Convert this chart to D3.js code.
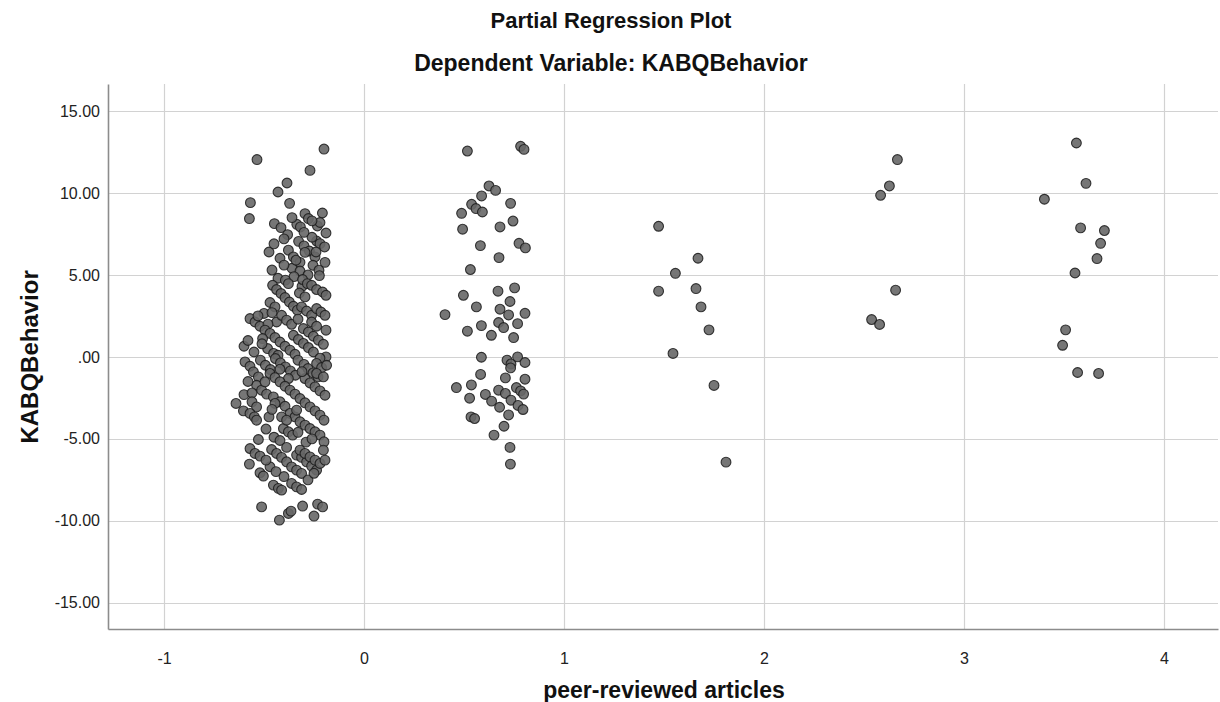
<!DOCTYPE html>
<html>
<head>
<meta charset="utf-8">
<script src="https://cdn.jsdelivr.net/npm/d3@7/dist/d3.min.js"></script>
<style>
  html, body { margin: 0; padding: 0; background: #fff; }
  svg { display: block; font-family: "Liberation Sans", Arial, sans-serif; }
</style>
</head>
<body>
<svg id="chart" width="1220" height="702"></svg>
<script>
// Partial regression residuals: peer-reviewed articles (x) vs KABQBehavior (y)
const lowGroup = [
  [-0.535,12.04],[-0.20,12.68],[-0.27,11.38],[-0.385,10.61],[-0.43,10.06],[-0.568,9.41],[-0.372,9.37],
  [-0.573,8.44],[-0.448,8.13],[-0.295,8.74],[-0.278,8.44],[-0.208,8.78],[-0.336,8.09],[-0.318,7.93],
  [-0.233,7.99],[-0.22,8.2],[-0.26,8.3],[-0.36,8.5],
  [-0.415,7.89],[-0.382,7.46],[-0.19,7.56],[-0.327,7.05],[-0.30,6.77],[-0.273,6.46],[-0.237,7.07],
  [-0.22,6.91],[-0.197,6.71],[-0.475,6.40],[-0.378,6.51],[-0.353,6.10],[-0.245,6.10],[-0.195,5.77],
  [-0.255,5.59],[-0.32,5.77],[-0.36,5.41],[-0.225,5.29],[-0.32,5.24],[-0.223,4.96],[-0.295,6.38],[-0.42,6.02],
  [-0.40,5.60],[-0.34,5.90],[-0.28,5.00],[-0.35,4.90],[-0.43,4.80],[-0.46,5.30],[-0.31,4.30],[-0.24,6.40],
  [-0.26,7.30],[-0.30,7.60],[-0.40,7.20],[-0.45,6.90],
  [-0.393,4.68],[-0.378,4.47],[-0.307,4.72],[-0.283,4.47],[-0.262,4.37],[-0.237,4.11],[-0.207,3.96],
  [-0.19,3.76],[-0.457,4.37],[-0.437,4.11],[-0.415,3.87],[-0.395,3.62],[-0.373,3.35],[-0.353,3.09],
  [-0.333,2.85],[-0.323,3.90],[-0.295,3.66],[-0.47,3.32],[-0.445,3.05],[-0.312,3.05],[-0.287,2.80],
  [-0.262,2.54],[-0.237,2.95],[-0.215,2.74],[-0.195,2.54],[-0.50,2.65],[-0.57,2.34],[-0.545,2.13],
  [-0.52,1.87],[-0.437,2.13],[-0.412,2.54],[-0.387,2.24],[-0.362,1.99],
  [-0.48,2.00],[-0.46,2.70],[-0.53,2.50],[-0.33,2.30],
  [-0.495,1.63],[-0.47,1.43],[-0.445,1.18],[-0.42,0.91],[-0.395,0.65],[-0.37,0.41],[-0.345,0.16],
  [-0.353,1.32],[-0.328,1.06],[-0.303,0.82],[-0.278,0.57],[-0.253,0.30],[-0.303,1.73],[-0.278,1.52],
  [-0.253,1.26],[-0.228,1.02],[-0.203,0.77],[-0.262,2.13],[-0.237,1.87],[-0.19,1.63],[-0.60,0.65],
  [-0.507,1.12],[-0.482,0.51],[-0.452,0.21],[-0.19,0.0],[-0.22,-0.08],
  [-0.58,1.00],[-0.55,0.30],[-0.51,0.80],[-0.43,0.10],
  [-0.595,-0.30],[-0.57,-0.57],[-0.518,-0.20],[-0.493,-0.51],[-0.468,-0.77],[-0.443,-0.10],[-0.418,-0.37],
  [-0.393,-0.61],[-0.368,-0.85],[-0.343,-1.12],[-0.33,-0.20],[-0.30,-0.46],[-0.28,-0.71],[-0.255,-0.98],
  [-0.23,-1.22],[-0.237,-0.40],[-0.212,-0.65],[-0.187,-0.51],[-0.378,-1.32],[-0.553,-0.91],[-0.528,-1.22],
  [-0.47,-1.01],[-0.445,-1.26],[-0.42,-1.52],[-0.395,-1.79],[-0.37,-2.03],[-0.345,-2.27],[-0.295,-1.32],
  [-0.27,-1.59],[-0.245,-1.83],[-0.22,-2.07],[-0.195,-2.34],[-0.237,-1.01],[-0.203,-1.22],[-0.537,-1.73],
  [-0.512,-2.03],[-0.487,-2.27],[-0.495,-1.52],[-0.453,-2.44],[-0.42,-2.74],[-0.395,-3.01],[-0.32,-2.54],
  [-0.295,-2.80],[-0.27,-3.05],[-0.245,-3.29],[-0.22,-3.55],[-0.20,-3.86],
  [-0.31,-0.90],[-0.42,-0.75],[-0.58,-1.50],[-0.60,-2.30],[-0.56,-2.20],
  [-0.64,-2.84],[-0.603,-3.29],[-0.56,-2.74],[-0.537,-3.05],[-0.57,-3.45],[-0.548,-3.66],[-0.537,-3.86],
  [-0.475,-3.66],[-0.445,-2.84],[-0.37,-3.45],[-0.345,-3.66],[-0.32,-3.96],[-0.295,-4.16],[-0.27,-4.37],
  [-0.245,-4.57],[-0.22,-4.77],[-0.20,-5.18],[-0.403,-4.37],[-0.378,-4.57],[-0.357,-4.77],[-0.412,-3.66],
  [-0.387,-3.86],[-0.337,-3.25],
  [-0.46,-3.20],[-0.49,-4.40],[-0.45,-4.90],[-0.42,-5.10],[-0.29,-5.20],[-0.26,-5.00],[-0.33,-4.60],
  [-0.528,-5.04],[-0.57,-5.59],[-0.545,-5.89],[-0.52,-6.05],[-0.573,-6.54],[-0.387,-5.52],[-0.462,-5.65],
  [-0.437,-5.89],[-0.412,-6.13],[-0.387,-6.40],[-0.362,-6.71],[-0.337,-6.91],[-0.312,-7.11],[-0.337,-5.99],
  [-0.312,-6.13],[-0.287,-6.40],[-0.262,-6.66],[-0.237,-6.91],[-0.32,-5.69],[-0.295,-5.89],[-0.27,-6.10],
  [-0.245,-6.30],[-0.22,-6.50],[-0.195,-6.30],[-0.52,-7.07],[-0.503,-7.27],[-0.47,-6.70],[-0.203,-5.69],
  [-0.49,-6.30],[-0.44,-7.00],[-0.40,-7.30],[-0.28,-7.50],[-0.25,-7.10],
  [-0.453,-7.82],[-0.428,-8.02],[-0.412,-8.13],[-0.362,-7.72],[-0.337,-7.93],[-0.312,-8.09],[-0.512,-9.15],
  [-0.423,-9.96],[-0.378,-9.55],[-0.365,-9.41],[-0.307,-9.10],[-0.25,-9.71],[-0.232,-8.98],[-0.207,-9.15]
];

const oneGroup = [
  [0.517,12.56],[0.783,12.85],[0.80,12.66],[0.625,10.43],[0.658,10.16],[0.588,9.82],[0.538,9.31],
  [0.56,9.05],[0.592,8.84],[0.488,8.76],[0.733,9.37],[0.745,8.29],[0.493,7.79],[0.68,7.93],[0.775,6.93],
  [0.807,6.65],[0.582,6.79],[0.675,6.06],[0.532,5.33],
  [0.753,4.21],[0.67,4.01],[0.497,3.76],[0.73,3.38],[0.562,3.05],[0.68,2.91],[0.405,2.58],[0.723,2.56],
  [0.805,2.66],[0.587,1.91],[0.673,2.10],[0.698,1.79],[0.768,2.03],[0.517,1.57],[0.637,1.32],[0.748,1.18],
  [0.587,-0.02],[0.715,-0.20],[0.735,-0.43],[0.733,-0.67],[0.768,0.0],[0.805,-0.34],[0.583,-1.07],
  [0.707,-1.28],[0.805,-1.36],[0.462,-1.87],[0.537,-1.71],[0.528,-2.52],[0.607,-2.29],[0.638,-2.70],
  [0.673,-2.03],[0.707,-2.23],[0.762,-1.87],[0.783,-2.07],[0.798,-2.27],[0.735,-2.64],[0.678,-3.07],
  [0.77,-2.96],[0.795,-3.21],[0.723,-3.54],[0.535,-3.66],[0.553,-3.76],[0.70,-4.23],[0.65,-4.77],
  [0.73,-5.52],[0.732,-6.54]
];

const twoGroup = [
  [1.473,7.97],[1.67,6.02],[1.557,5.10],[1.473,4.01],[1.66,4.17],[1.685,3.05],[1.725,1.65],
  [1.545,0.21],[1.75,-1.74],[1.81,-6.42]
];

const threeGroup = [
  [2.667,12.04],[2.627,10.43],[2.583,9.86],[2.658,4.07],[2.538,2.28],[2.578,1.98]
];

const fourGroup = [
  [3.562,13.05],[3.61,10.59],[3.402,9.62],[3.583,7.87],[3.702,7.71],[3.683,6.93],[3.665,6.0],
  [3.555,5.12],[3.508,1.65],[3.493,0.71],[3.568,-0.95],[3.673,-1.01]
];

const xTicks = [-1, 0, 1, 2, 3, 4];
const yTicks = [15, 10, 5, 0, -5, -10, -15];
const titleText = "Partial Regression Plot";
const subtitleText = "Dependent Variable: KABQBehavior";
const xLabel = "peer-reviewed articles";
const yLabel = "KABQBehavior";

(function draw() {
  const points = [].concat(lowGroup, oneGroup, twoGroup, threeGroup, fourGroup);

  const svg = d3.select("#chart");
  const plotLeft = 108, plotRight = 1218, plotTop = 84, plotBottom = 629;

  const x = d3.scaleLinear().domain([-1.28, 4.27]).range([plotLeft, plotRight]);
  const y = d3.scaleLinear().domain([-16.6, 16.65]).range([plotBottom, plotTop]);

  // grid
  const grid = svg.append("g").attr("stroke", "#d2d2d2").attr("stroke-width", 1.2);
  grid.selectAll("line.v").data(xTicks).join("line").attr("class", "v")
    .attr("x1", d => Math.round(x(d)) + 0.5).attr("x2", d => Math.round(x(d)) + 0.5)
    .attr("y1", plotTop).attr("y2", plotBottom);
  grid.selectAll("line.h").data(yTicks).join("line").attr("class", "h")
    .attr("x1", plotLeft).attr("x2", plotRight)
    .attr("y1", d => Math.round(y(d)) + 0.5).attr("y2", d => Math.round(y(d)) + 0.5);

  // axes (plain hyphen for negatives, SPSS-style ".00" for zero)
  const xAxis = d3.axisBottom(x).tickValues(xTicks).tickSize(0).tickPadding(24)
    .tickFormat(d => String(d));
  const yAxis = d3.axisLeft(y).tickValues(yTicks).tickSize(0).tickPadding(8)
    .tickFormat(d => d === 0 ? ".00" : d.toFixed(2));

  const gx = svg.append("g").attr("transform", `translate(0,${plotBottom})`).call(xAxis);
  const gy = svg.append("g").attr("transform", `translate(${plotLeft},0)`).call(yAxis);
  [gx, gy].forEach(g => {
    g.select(".domain").attr("stroke", "#8c8c8c").attr("stroke-width", 1.6);
    g.selectAll("text").attr("font-family", "'Liberation Sans', Arial, sans-serif")
      .attr("font-size", 16).attr("fill", "#222");
  });

  // points
  svg.append("g").selectAll("circle").data(points).join("circle")
    .attr("cx", d => x(d[0])).attr("cy", d => y(d[1])).attr("r", 4.9)
    .attr("fill", "#676767").attr("fill-opacity", 0.9)
    .attr("stroke", "#1a1a1a").attr("stroke-width", 1.1).attr("stroke-opacity", 0.85);

  // titles
  svg.append("text").attr("x", 611).attr("y", 28).attr("text-anchor", "middle")
    .attr("font-size", 22).attr("font-weight", "bold").attr("fill", "#111").text(titleText);
  svg.append("text").attr("x", 611).attr("y", 71).attr("text-anchor", "middle")
    .attr("font-size", 23).attr("font-weight", "bold").attr("fill", "#111").text(subtitleText);
  svg.append("text").attr("x", 664).attr("y", 698).attr("text-anchor", "middle")
    .attr("font-size", 23).attr("font-weight", "bold").attr("fill", "#111").text(xLabel);
  svg.append("text").attr("transform", `translate(38,${y(0)}) rotate(-90)`).attr("text-anchor", "middle")
    .attr("font-size", 24).attr("font-weight", "bold").attr("fill", "#111").text(yLabel);
})();
</script>
</body>
</html>
